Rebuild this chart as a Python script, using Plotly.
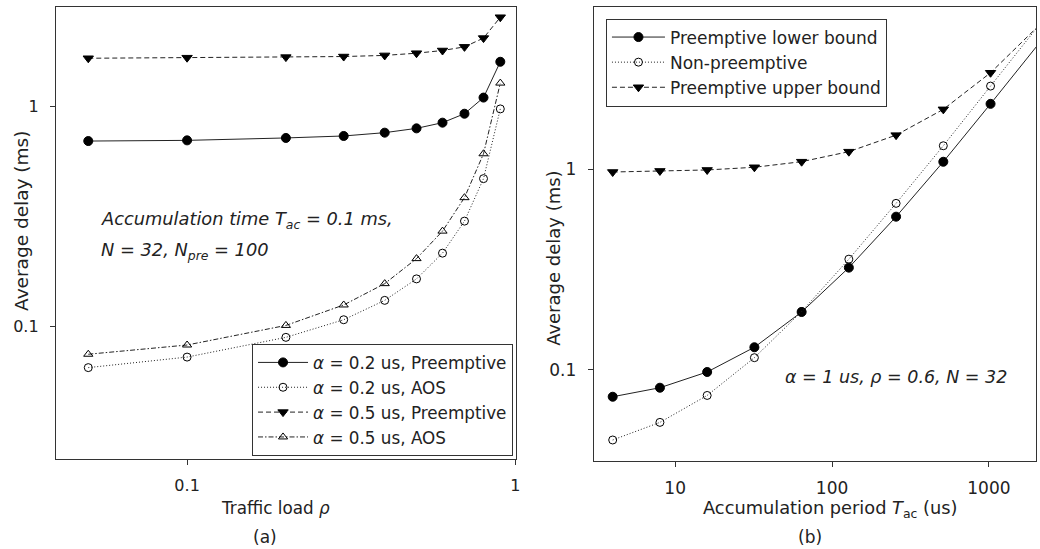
import plotly.graph_objects as go

# ---- data: panel (a) ----
load = [0.05, 0.1, 0.2, 0.3, 0.4, 0.5, 0.6, 0.7, 0.8, 0.9]
pre_02 = [0.698, 0.703, 0.721, 0.736, 0.762, 0.797, 0.846, 0.929, 1.10, 1.60]
aos_02 = [0.0652, 0.0728, 0.0895, 0.1076, 0.1318, 0.165, 0.216, 0.302, 0.471, 0.977]
pre_05 = [1.66, 1.67, 1.68, 1.69, 1.71, 1.75, 1.80, 1.87, 2.05, 2.55]
aos_05 = [0.075, 0.0826, 0.1014, 0.1256, 0.157, 0.204, 0.272, 0.386, 0.611, 1.28]
names_a = ["<i>α</i> = 0.2 us, Preemptive", "<i>α</i> = 0.2 us, AOS",
           "<i>α</i> = 0.5 us, Preemptive", "<i>α</i> = 0.5 us, AOS"]

# ---- data: panel (b) ----
tac = [4, 8, 16, 32, 64, 128, 256, 512, 1024, 2048]
lower = [0.0733, 0.0813, 0.0974, 0.1294, 0.194, 0.323, 0.580, 1.09, 2.12, 4.17]
nonpre = [0.0446, 0.0546, 0.0744, 0.1148, 0.195, 0.356, 0.676, 1.31, 2.60, 5.15]
upper = [0.969, 0.981, 0.992, 1.023, 1.091, 1.224, 1.48, 1.99, 3.03, 5.15]
names_b = ["Preemptive lower bound", "Non-preemptive", "Preemptive upper bound"]

W, H = 1040, 549
FONT = "DejaVu Sans"
AX = "#333333"
TXT = "#222222"
DASH = "5px,3px"
DOT = "1px,2px"
DASHDOT = "5px,2px,1.5px,2px"

def px(x):
    return x / W

def py(y):
    return 1 - y / H

fig = go.Figure()

styles_a = [
    (pre_02, "solid", "circle", "black", 9),
    (aos_02, DOT, "circle-open", "black", 8),
    (pre_05, DASH, "triangle-down", "black", 9),
    (aos_05, DASHDOT, "triangle-up-open", "black", 8),
]
for i, (ys, dash, sym, col, sz) in enumerate(styles_a):
    fig.add_trace(go.Scatter(
        x=load, y=ys, mode="lines+markers", name=names_a[i],
        line=dict(color=TXT, width=1, dash=dash),
        marker=dict(symbol=sym, size=sz, color=col,
                    line=dict(color="black", width=1)),
        xaxis="x", yaxis="y", legend="legend", legendgroup="a%d" % i,
        cliponaxis=False))

styles_b = [
    (lower, "solid", "circle", 9),
    (nonpre, DOT, "circle-open", 8),
    (upper, DASH, "triangle-down", 9),
]
for i, (ys, dash, sym, sz) in enumerate(styles_b):
    fig.add_trace(go.Scatter(
        x=tac, y=ys, mode="lines+markers", name=names_b[i],
        line=dict(color=TXT, width=1, dash=dash),
        marker=dict(symbol=sym, size=sz, color="black",
                    line=dict(color="black", width=1)),
        xaxis="x2", yaxis="y2", legend="legend2", legendgroup="b%d" % i,
        cliponaxis=False))

axis_common = dict(type="log", showline=True, mirror=True, linecolor=AX,
                   linewidth=1, ticks="outside", ticklen=5, tickcolor=AX,
                   showgrid=False, zeroline=False,
                   tickfont=dict(family=FONT, size=16, color=TXT))

fig.update_layout(
    width=W, height=H,
    margin=dict(l=0, r=0, t=0, b=0),
    paper_bgcolor="white", plot_bgcolor="white",
    font=dict(family=FONT, color=TXT),
    showlegend=True,
    xaxis=dict(axis_common, domain=[px(56), px(518.3)], range=[-1.4, 0.003],
               tickvals=[0.1, 1], ticktext=["0.1", "1"], anchor="y",
               ticklabelstandoff=7),
    yaxis=dict(axis_common, domain=[py(459), py(7)], range=[-1.601, 0.453],
               tickvals=[0.1, 1], ticktext=["0.1", "1"], anchor="x",
               ticklabelstandoff=8),
    xaxis2=dict(axis_common, domain=[px(596), 1.0], range=[0.481, 3.30],
                tickvals=[10, 100, 1000], ticktext=["10", "100", "1000"],
                anchor="y2", ticklabelstandoff=7,
                tickfont=dict(family=FONT, size=17, color=TXT)),
    yaxis2=dict(axis_common, domain=[py(460.7), py(7.3)], range=[-1.454, 0.808],
                tickvals=[0.1, 1], ticktext=["0.1", "1"], anchor="x2",
                ticklabelstandoff=8,
                tickfont=dict(family=FONT, size=17, color=TXT)),
    legend=dict(x=px(253), y=py(344), xanchor="left", yanchor="top",
                bgcolor="white", bordercolor=AX, borderwidth=1,
                font=dict(family=FONT, size=16.8, color=TXT),
                itemwidth=50, tracegroupgap=0, traceorder="grouped"),
    legend2=dict(x=px(608.3), y=py(18.5), xanchor="left", yanchor="top",
                 bgcolor="white", bordercolor=AX, borderwidth=1,
                 font=dict(family=FONT, size=17, color=TXT),
                 itemwidth=53, tracegroupgap=0, traceorder="grouped"),
)

ann = [
    dict(text="Average delay (ms)", x=px(21), y=py(221), textangle=-90, size=18.5),
    dict(text="Average delay (ms)", x=px(555), y=py(258), textangle=-90, size=18),
    dict(text="Traffic load <i>ρ</i>", x=px(277), y=py(508), size=16.8),
    dict(text="(a)", x=px(265.7), y=py(536.7), size=17),
    dict(text="Accumulation period <i>T</i><sub>ac</sub> (us)", x=px(834), y=py(509), size=17.8),
    dict(text="(b)", x=px(813), y=py(536.7), size=17),
]
for a in ann:
    fig.add_annotation(text=a["text"], x=a["x"], y=a["y"], xref="paper", yref="paper",
                       showarrow=False, textangle=a.get("textangle", 0),
                       xanchor="center", yanchor="middle",
                       font=dict(family=FONT, size=a["size"], color=TXT))

notes = [
    ("<i>Accumulation time T<sub>ac</sub> = 0.1 ms,</i>", 99, 220, 17.8),
    ("<i>N = 32, N<sub>pre</sub> = 100</i>", 99, 250.7, 17.8),
    ("<i>α = 1 us, ρ = 0.6, N = 32</i>", 785.7, 377.3, 17.5),
]
for t, x, y, s in notes:
    fig.add_annotation(text=t, x=px(x), y=py(y), xref="paper", yref="paper",
                       showarrow=False, xanchor="left", yanchor="middle",
                       font=dict(family=FONT, size=s, color=TXT))

fig.write_html("out.html",
               config={"displayModeBar": False},
               post_script="document.body.style.margin='0';"
                           "document.body.style.overflow='hidden';")
